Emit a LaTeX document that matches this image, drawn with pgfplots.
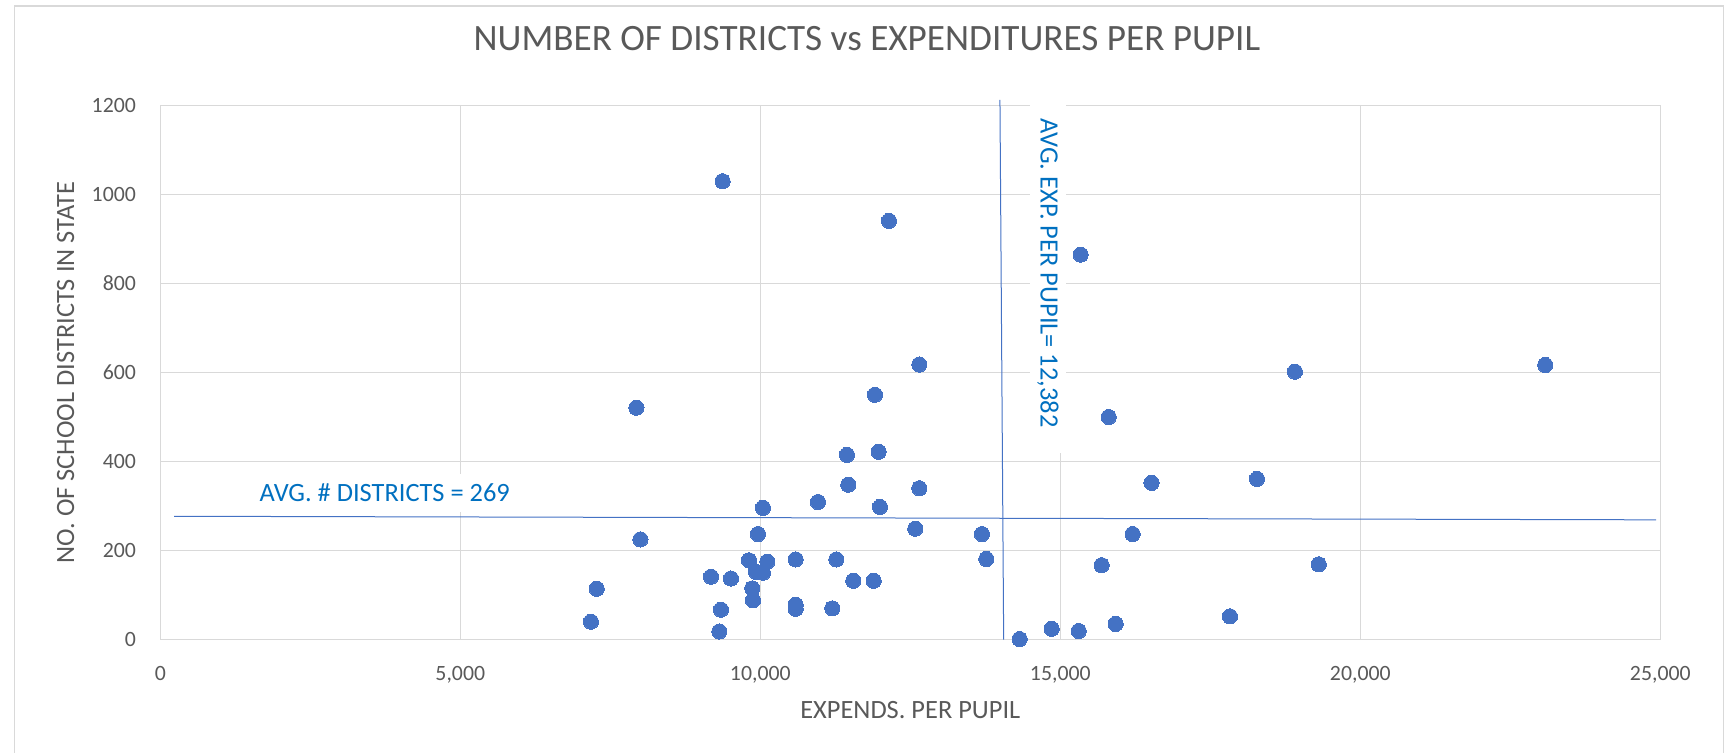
\documentclass[border=0pt]{standalone}
\usepackage{pgfplots}
\pgfplotsset{compat=1.18}
\usepackage{fontspec}
\setmainfont{Carlito}
\definecolor{gridgray}{HTML}{D9D9D9}
\definecolor{axgray}{HTML}{BFBFBF}
\definecolor{txtgray}{HTML}{595959}
\definecolor{dotblue}{HTML}{4472C4}
\definecolor{annblue}{HTML}{0070C0}
\begin{document}
\begin{tikzpicture}
\useasboundingbox (0,0) rectangle (866.5pt,376pt);
\draw[gridgray, line width=0.75pt] (7.15pt,-5pt) -- (7.15pt,373pt) -- (861.85pt,373pt) -- (861.85pt,-5pt);
\begin{axis}[
  at={(80.15pt,56.25pt)}, anchor=south west,
  scale only axis, width=750pt, height=266.95pt,
  xmin=0, xmax=25000, ymin=0, ymax=1200,
  xtick={0,5000,10000,15000,20000,25000},
  ytick={0,200,400,600,800,1000,1200},
  scaled ticks=false,
  major tick length=0pt,
  grid=major,
  grid style={gridgray, line width=0.75pt},
  axis line style={gridgray, line width=0.75pt},
  clip=false,
  /pgf/number format/assume math mode=true,
  xticklabel style={font=\fontsize{10.9}{13}\selectfont, text=txtgray, inner sep=0pt, yshift=-13pt, /pgf/number format/fixed, /pgf/number format/1000 sep={,}},
  yticklabel style={font=\fontsize{10.9}{13}\selectfont, text=txtgray, inner sep=0pt, xshift=-12pt, /pgf/number format/fixed, /pgf/number format/1000 sep={}},
  xlabel={EXPENDS. PER PUPIL},
  ylabel={NO. OF SCHOOL DISTRICTS IN STATE},
  xlabel style={font=\fontsize{13.2}{16}\selectfont, text=txtgray, at={(axis description cs:0.5,-0.132)}, anchor=center},
  ylabel style={font=\fontsize{13.2}{16}\selectfont, text=txtgray, at={(axis description cs:-0.0631,0.5)}, anchor=center},
  title={NUMBER OF DISTRICTS vs EXPENDITURES PER PUPIL},
  title style={font=\fontsize{18.6}{22}\selectfont, text=txtgray, at={(axis description cs:0.4711,1.1026)}, anchor=center},
]
\node[fill=white, inner xsep=4pt, inner ysep=5pt, text=annblue, font=\fontsize{13.2}{16}\selectfont] at (axis cs:3741,329) {AVG. \# DISTRICTS = 269};
\node[fill=white, rotate=-90, inner xsep=13pt, inner ysep=3.5pt, text=annblue, font=\fontsize{13.2}{16}\selectfont] at (axis cs:14795,824) {AVG. EXP. PER PUPIL= 12,382};
\addplot[dotblue, line width=0.5pt, no marks] coordinates {(230,277) (24932,269)};
\addplot[dotblue, line width=0.5pt, no marks] coordinates {(13994,1213) (14056,0)};
\addplot[only marks, mark=*, mark size=3.8pt, mark options={fill=dotblue, draw=dotblue, line width=0pt}] coordinates {
(7935,521) (8002,225) (7274,114) (7177,40) (9372,1030) (12144,941) (15339,865)
(12650,618) (11911,550) (15806,500) (11444,415) (11972,422) (11467,348) (12650,340)
(16521,352) (10961,309) (10044,296) (11994,298) (12583,249) (9961,237) (13694,237)
(16205,237) (13767,181) (9811,178) (10117,175) (10589,180) (11267,180) (15689,167)
(9178,141) (9511,137) (9928,152) (10044,150) (11550,132) (11889,132) (9866,115)
(9878,88) (10589,78) (10589,69) (11200,70) (9344,67) (9317,18) (14856,24)
(15306,19) (14322,1) (15922,35) (18910,602) (23082,617) (18277,361) (19307,169)
(17827,52)
};
\end{axis}
\end{tikzpicture}
\end{document}
